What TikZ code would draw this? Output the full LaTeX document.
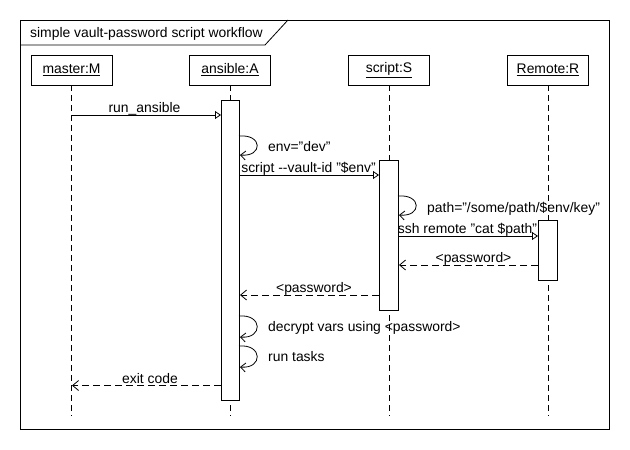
\documentclass[tikz,border=0pt]{standalone}
\usepackage{fontspec}
\setmainfont{Liberation Sans}
\usetikzlibrary{arrows.meta}
\begin{document}
\begin{tikzpicture}[x=1pt,y=-1pt,
  every node/.style={font=\fontsize{13.9}{15}\selectfont, inner sep=0pt},
  hdr/.style={draw, line width=0.8pt, minimum width=81pt, minimum height=30pt, fill=white},
  actbox/.style={draw, line width=0.8pt, fill=white},
  lifeline/.style={line width=0.8pt, dash pattern=on 6pt off 4pt},
  call/.style={line width=0.8pt, -{Triangle[open, length=6pt, width=8pt]}},
  ret/.style={line width=0.8pt, dash pattern=on 7pt off 4pt, -{Straight Barb[length=6pt, width=10pt]}},
  selfmsg/.style={line width=0.8pt, -{Straight Barb[length=5pt, width=9pt]}},
  lbl/.style={anchor=base}
]
\useasboundingbox (0,0) rectangle (630,450);
% frame
\draw[line width=0.8pt] (20,20) rectangle (609,429);
\draw[line width=0.8pt] (20,45) -- (265,45) -- (288,20);
\node[anchor=west] (title) at (30,33.5) {simple vault-password script workflow};

% lifelines
\coordinate (lM) at (71.5,85); \coordinate (lMe) at (71.5,416);
\coordinate (lA) at (230,85);  \coordinate (lAe) at (230,416);
\coordinate (lS) at (389,85);  \coordinate (lSe) at (389,416);
\coordinate (lR) at (548,85);  \coordinate (lRe) at (548,416);
\draw[lifeline] (lM) -- (lMe);
\draw[lifeline] (lA) -- (lAe);
\draw[lifeline] (lS) -- (lSe);
\draw[lifeline] (lR) -- (lRe);

% headers
\node[hdr] (hM) at (71.5,70) {\underline{master:M}};
\node[hdr] (hA) at (230,70) {\underline{ansible:A}};
\node[hdr] (hS) at (389,70) {\underline{script:S}};
\node[hdr] (hR) at (548,70) {\underline{Remote:R}};

% activations
\draw[actbox] (221,100) rectangle (239,400);
\draw[actbox] (379,160) rectangle (398,310);
\draw[actbox] (538,220) rectangle (557,280);

% run_ansible
\coordinate (m1a) at (72,115); \coordinate (m1b) at (221,115);
\draw[call] (m1a) -- (m1b);
\node[lbl] (l1) at (144.5,112) {run\_ansible};

% env="dev"
\coordinate (s1a) at (239,136); \coordinate (s1b) at (240,155);
\draw[selfmsg] (s1a) .. controls (263,134) and (263,157) .. (s1b);
\node[anchor=west] (l2) at (268,147) {env="dev"};

% script --vault-id
\coordinate (m2a) at (239,175); \coordinate (m2b) at (379,175);
\draw[call] (m2a) -- (m2b);
\node[lbl] (l3) at (308.5,172) {script -{}-vault-id "\$env"};

% path=
\coordinate (s2a) at (398,196); \coordinate (s2b) at (399,215);
\draw[selfmsg] (s2a) .. controls (422,194) and (422,217) .. (s2b);
\node[anchor=west] (l4) at (427,209) {path="/some/path/\$env/key"};

% ssh remote
\coordinate (m3a) at (398,236); \coordinate (m3b) at (538,236);
\draw[call] (m3a) -- (m3b);
\node[lbl] (l5) at (467.5,233) {ssh remote "cat \$path"};

% <password> R -> S
\coordinate (r1a) at (538,265); \coordinate (r1b) at (399,265);
\draw[ret] (r1a) -- (r1b);
\node[lbl] (l6) at (473.5,262) {<password>};

% <password> S -> A
\coordinate (r2a) at (379,295); \coordinate (r2b) at (240,295);
\draw[ret] (r2a) -- (r2b);
\node[lbl] (l7) at (314,292) {<password>};

% decrypt
\coordinate (s3a) at (239,316); \coordinate (s3b) at (240,337);
\draw[selfmsg] (s3a) .. controls (263,314) and (263,339) .. (s3b);
\node[anchor=west] (l8) at (268,328) {decrypt vars using <password>};

% run tasks
\coordinate (s4a) at (239,346); \coordinate (s4b) at (240,367);
\draw[selfmsg] (s4a) .. controls (263,344) and (263,369) .. (s4b);
\node[anchor=west] (l9) at (268,357) {run tasks};

% exit code
\coordinate (r3a) at (221,385.5); \coordinate (r3b) at (72,385.5);
\draw[ret] (r3a) -- (r3b);
\node[lbl] (l10) at (150,383) {exit code};
\end{tikzpicture}
\end{document}
